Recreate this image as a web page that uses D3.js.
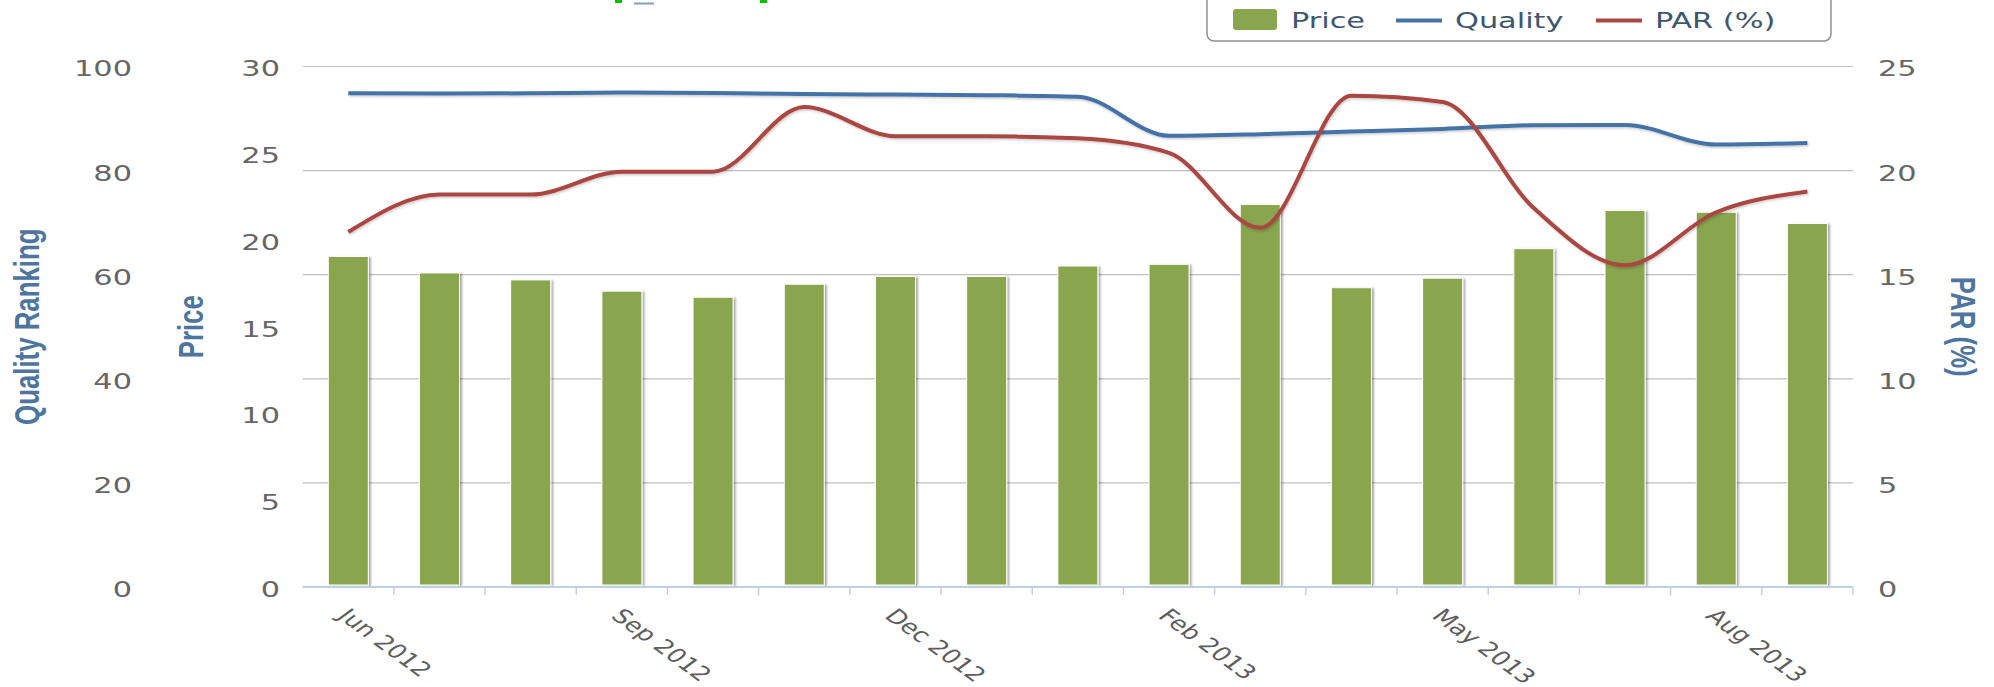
<!DOCTYPE html>
<html><head><meta charset="utf-8">
<script src="https://cdn.jsdelivr.net/npm/d3@7"></script>
<style>html,body{margin:0;padding:0;background:#fff;overflow:hidden}</style>
</head><body>
<svg id="chart" width="1994" height="687"></svg>
<script>
// ---- data ----
const months = ["Jun 2012","Jul 2012","Aug 2012","Sep 2012","Oct 2012","Nov 2012","Dec 2012","Jan 2013","Jan 2013","Feb 2013","Mar 2013","Apr 2013","May 2013","Jun 2013","Jul 2013","Aug 2013","Sep 2013"];
const price   = [19.05, 18.1, 17.7, 17.05, 16.7, 17.45, 17.9, 17.9, 18.5, 18.6, 22.05, 17.25, 17.8, 19.5, 21.7, 21.6, 20.95];
const quality = [94.85, 94.8, 94.85, 95.0, 94.9, 94.7, 94.6, 94.5, 94.2, 86.7, 87.0, 87.5, 88.0, 88.7, 88.75, 85.0, 85.3];
const par     = [17.05, 18.85, 18.85, 19.95, 19.95, 23.05, 21.65, 21.65, 21.55, 20.85, 17.25, 23.6, 23.3, 18.2, 15.45, 18.0, 19.0];
const qualityTicks = [0, 20, 40, 60, 80, 100];
const priceTicks = [0, 5, 10, 15, 20, 25, 30];
const parTicks = [0, 5, 10, 15, 20, 25];
const labelEvery = 3;
const seriesNames = ["Price", "Quality", "PAR (%)"];
const axisTitles = ["Quality Ranking", "Price", "PAR (%)"];

// ---- layout ----
const SX = 1.38; // horizontal stretch of the reference
const L = 302.7, R = 1853, T = 66.5, B = 587;
const colors = {price: "#89A54E", quality: "#4572A7", par: "#AA4643"};

const svg = d3.select("#chart");
const defs = svg.append("defs");
defs.append("filter").attr("id","barShadow").attr("filterUnits","userSpaceOnUse")
  .attr("x",0).attr("y",0).attr("width",1994).attr("height",687)
  .append("feDropShadow").attr("dx",2).attr("dy",1).attr("stdDeviation",1.2)
  .attr("flood-color","#000").attr("flood-opacity",0.35);
defs.append("filter").attr("id","lineShadow").attr("filterUnits","userSpaceOnUse")
  .attr("x",0).attr("y",0).attr("width",1994).attr("height",687)
  .append("feDropShadow").attr("dx",1).attr("dy",1.5).attr("stdDeviation",1)
  .attr("flood-color","#000").attr("flood-opacity",0.2);

const x = d3.scaleBand().domain(d3.range(months.length)).range([L, R]).padding(0);
const yPrice = d3.scaleLinear().domain([0, 30]).range([B, T]);
const yQ = d3.scaleLinear().domain([0, 100]).range([B, T]);
const yPar = d3.scaleLinear().domain([0, 25]).range([B, T]);
const cx = i => x(i) + x.bandwidth() / 2;

// cut-off fragments at top
svg.append("rect").attr("x",615).attr("y",0).attr("width",7).attr("height",3).attr("fill","#00c000");
svg.append("rect").attr("x",760).attr("y",0).attr("width",7).attr("height",3).attr("fill","#00c000");
svg.append("rect").attr("x",634).attr("y",2.5).attr("width",20).attr("height",2).attr("fill","#5a78a0").attr("opacity",0.7);

// gridlines
svg.append("g").selectAll("line").data(qualityTicks).join("line")
  .attr("x1", L).attr("x2", R).attr("y1", d => yQ(d)).attr("y2", d => yQ(d))
  .attr("stroke", "#C0C0C0").attr("stroke-width", 1.2);

// bars
const barW = 40;
svg.append("g").attr("filter","url(#barShadow)").selectAll("rect").data(price).join("rect")
  .attr("x", (d, i) => cx(i) - barW / 2).attr("width", barW)
  .attr("y", d => yPrice(d)).attr("height", d => yPrice(0) - yPrice(d) - 2)
  .attr("fill", colors.price).attr("stroke", "#fff").attr("stroke-width", 1);

// x axis line + ticks
svg.append("line").attr("x1", L).attr("x2", R).attr("y1", B).attr("y2", B)
  .attr("stroke", "#C0D0E0").attr("stroke-width", 2);
svg.append("g").selectAll("line").data(d3.range(1, months.length + 1)).join("line")
  .attr("x1", i => x(0) + i * x.step()).attr("x2", i => x(0) + i * x.step())
  .attr("y1", B).attr("y2", B + 8).attr("stroke", "#C0D0E0").attr("stroke-width", 1.5);

// x labels via axis
const xAxis = d3.axisBottom(x).tickValues(d3.range(0, months.length, labelEvery))
  .tickFormat(i => months[i]).tickSize(0);
const gx = svg.append("g").attr("transform", `translate(0,${B})`).call(xAxis);
gx.select(".domain").remove();
gx.selectAll("text").attr("x", 0).attr("y", 0).attr("dy", 0)
  .attr("transform", `translate(-12,30) scale(${SX},1) rotate(45)`)
  .attr("text-anchor", "start")
  .attr("font-family", "DejaVu Sans").attr("font-size", 19.5).attr("fill", "#5e5e5e");

// y axes labels
function yAxis(scale, ticks, xpos, side) {
  const ax = (side === "left" ? d3.axisLeft(scale) : d3.axisRight(scale)).tickValues(ticks).tickSize(0);
  const g = svg.append("g").attr("transform", `translate(${xpos},0)`).call(ax);
  g.select(".domain").remove();
  g.selectAll("text").attr("x", 0).attr("y", 1.5).attr("dy", "0.36em")
    .attr("transform", `scale(${SX},1)`)
    .attr("text-anchor", side === "left" ? "end" : "start")
    .attr("font-family", "DejaVu Sans").attr("font-size", 22).attr("fill", "#666");
}
yAxis(yQ, qualityTicks, 132, "left");
yAxis(yPrice, priceTicks, 280, "left");
yAxis(yPar, parTicks, 1878, "right");

// axis titles
function title(txt, xpos, rot) {
  svg.append("text").text(txt)
    .attr("transform", `translate(${xpos},${(T + B) / 2}) scale(${SX},1) rotate(${rot})`)
    .attr("text-anchor", "middle")
    .attr("font-family", "Liberation Sans").attr("font-weight", "bold").attr("font-size", 25.8)
    .attr("fill", "#4d759e");
}
title(axisTitles[0], 39, -90);
title(axisTitles[1], 203, -90);
title(axisTitles[2], 1951, 90);

// lines
const lineQ = d3.line().x((d, i) => cx(i)).y(d => yQ(d)).curve(d3.curveMonotoneX);
const linePar = d3.line().x((d, i) => cx(i)).y(d => yPar(d)).curve(d3.curveMonotoneX);
svg.append("path").datum(quality).attr("d", lineQ).attr("fill", "none")
  .attr("stroke", colors.quality).attr("stroke-width", 4).attr("stroke-linejoin","round").attr("filter","url(#lineShadow)");
svg.append("path").datum(par).attr("d", linePar).attr("fill", "none")
  .attr("stroke", colors.par).attr("stroke-width", 4).attr("stroke-linejoin","round").attr("filter","url(#lineShadow)");

// legend
const lg = svg.append("g");
lg.append("rect").attr("x", 1207).attr("y", -12).attr("width", 624).attr("height", 53).attr("rx", 7)
  .attr("fill", "#fff").attr("stroke", "#909090").attr("stroke-width", 1.5);
lg.append("rect").attr("x", 1233).attr("y", 9).attr("width", 44).attr("height", 21).attr("rx", 3)
  .attr("fill", colors.price);
lg.append("line").attr("x1", 1396).attr("x2", 1442).attr("y1", 20.5).attr("y2", 20.5)
  .attr("stroke", colors.quality).attr("stroke-width", 4);
lg.append("line").attr("x1", 1596).attr("x2", 1642).attr("y1", 20.5).attr("y2", 20.5)
  .attr("stroke", colors.par).attr("stroke-width", 4);
[[seriesNames[0], 1291], [seriesNames[1], 1455], [seriesNames[2], 1655]].forEach(([t, xp]) => {
  lg.append("text").text(t).attr("transform", `translate(${xp},28) scale(${SX},1)`)
    .attr("font-family", "DejaVu Sans").attr("font-size", 22).attr("fill", "#3E576F");
});
</script>
</body></html>
